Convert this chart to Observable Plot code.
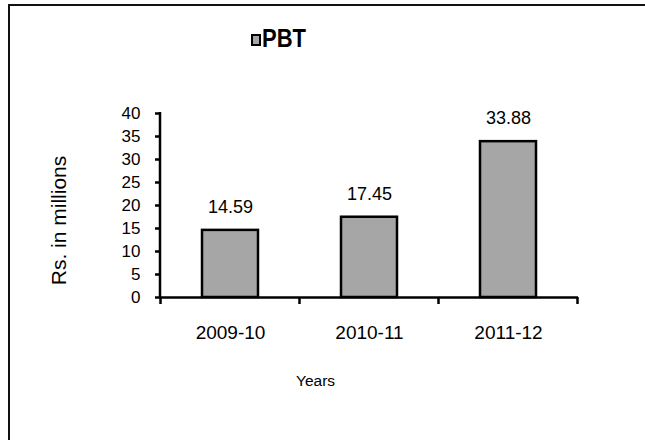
<!DOCTYPE html>
<html>
<head>
<meta charset="utf-8">
<script src="https://cdn.jsdelivr.net/npm/d3@7"></script>
<script src="https://cdn.jsdelivr.net/npm/@observablehq/plot@0.6"></script>
<style>
  html, body { margin: 0; padding: 0; background: #fff; overflow: hidden; }
  #wrap { position: relative; width: 645px; height: 440px; overflow: hidden; background: #fff; font-family: "Liberation Sans", Arial, sans-serif; }
  #border { position: absolute; left: 8px; top: 4px; width: 2000px; height: 2000px; border-left: 2.5px solid #111; border-top: 2.5px solid #111; box-sizing: border-box; }
  #chart { position: absolute; left: 0; top: 0; }
  #legend { position: absolute; left: 251px; top: 27px; display: flex; align-items: center; }
  #legend .swatch { width: 10px; height: 12px; box-sizing: border-box; border: 2px solid #000; background: #a6a6a6; margin-right: 1px; margin-top: 2px; }
  #legend .lab { font-weight: bold; font-size: 22px; line-height: 24px; color: #000; transform: scaleY(1.18); transform-origin: left center; }
</style>
</head>
<body>
<div id="wrap">
  <div id="border"></div>
  <div id="chart"></div>
  <div id="legend"><div class="swatch"></div><div class="lab">PBT</div></div>
</div>
<script>
const categories = ["2009-10", "2010-11", "2011-12"];
const pbtValues = [14.59, 17.45, 33.88];
const valueLabels = ["14.59", "17.45", "33.88"];
const yTicks = [0, 5, 10, 15, 20, 25, 30, 35, 40];
const yTitle = "Rs. in millions";
const xTitle = "Years";

const data = categories.map((c, i) => ({year: c, pbt: pbtValues[i], label: valueLabels[i]}));

function axisLines(index, scales, values, dimensions) {
  const x = scales.x, y = scales.y;
  const {width, marginLeft, marginRight} = dimensions;
  const g = d3.create("svg:g").attr("stroke", "#000").attr("stroke-width", 2.5).attr("fill", "none");
  const y0 = y(yTicks[0]);
  const yTop = y(yTicks[yTicks.length - 1]);
  g.append("line").attr("x1", marginLeft).attr("x2", marginLeft).attr("y1", yTop - 1).attr("y2", y0 + 1);
  let bounds;
  if (x.step && x.bandwidth) {
    const step = x.step(), bw = x.bandwidth();
    const centers = categories.map(c => x(c) + bw / 2);
    bounds = [centers[0] - step / 2, ...centers.map(c => c + step / 2)];
  } else {
    const l = marginLeft, r = width - marginRight;
    bounds = d3.range(categories.length + 1).map(i => l + i * (r - l) / categories.length);
  }
  for (const b of bounds) {
    g.append("line").attr("x1", b).attr("x2", b).attr("y1", y0).attr("y2", y0 + 7);
  }
  return g.node();
}

const chart = Plot.plot({
  width: 645,
  height: 440,
  marginLeft: 160,
  marginRight: 67,
  marginTop: 113,
  marginBottom: 143,
  x: {domain: categories, paddingInner: 0.6, paddingOuter: 0.3},
  y: {domain: [0, 40]},
  style: {fontFamily: "'Liberation Sans', Arial, sans-serif", color: "#000", background: "transparent"},
  marks: [
    Plot.barY(data, {x: "year", y: "pbt", fill: "#a6a6a6", stroke: "#000", strokeWidth: 2.5}),
    Plot.ruleY([0], {stroke: "#000", strokeWidth: 2.5}),
    axisLines,
    Plot.axisY({ticks: yTicks, tickSize: 5, tickPadding: 15, fontSize: 17, strokeWidth: 2.5, label: null}),
    Plot.axisX({tickSize: 0, tickPadding: 28, fontSize: 19, label: null}),
    Plot.text(data, {x: "year", y: "pbt", text: "label", dy: -23, fontSize: 18, lineAnchor: "middle", fill: "#000"}),
    Plot.text([yTitle], {text: d => d, frameAnchor: "left", textAnchor: "middle", lineAnchor: "middle", dx: -101, dy: 15, rotate: -90, fontSize: 21, fill: "#000"}),
    Plot.text([xTitle], {text: d => d, frameAnchor: "bottom", textAnchor: "middle", dx: -54, dy: 88, fontSize: 15.5, fill: "#000"})
  ]
});
document.getElementById("chart").appendChild(chart);
</script>
</body>
</html>
